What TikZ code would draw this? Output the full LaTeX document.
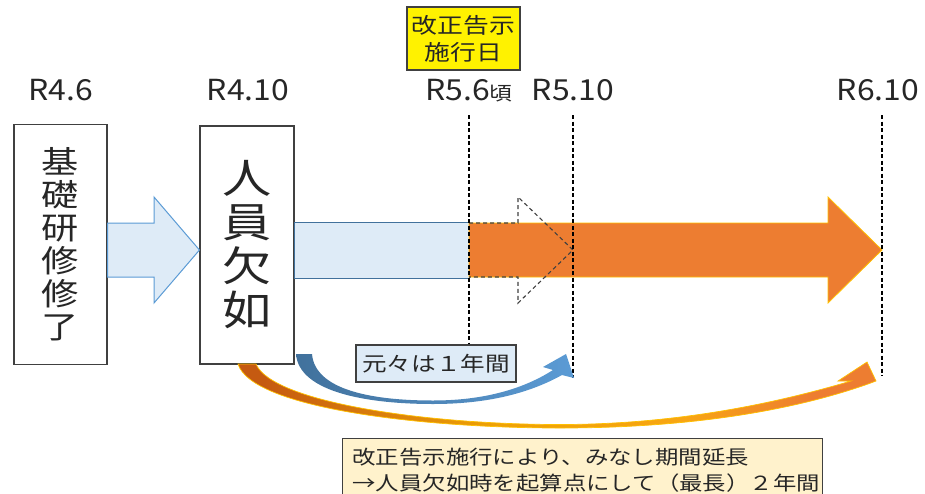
\documentclass[tikz,border=0pt]{standalone}
\usepackage{fontspec}
\newfontfamily\jp[FakeStretch=1.2]{Noto Sans CJK JP}
\newfontfamily\lat[FakeStretch=1.1]{Noto Sans CJK JP}
\usetikzlibrary{calc}
\definecolor{lblue}{HTML}{DEEBF7}
\definecolor{mblue}{HTML}{5B9BD5}
\definecolor{dblue}{HTML}{41719C}
\definecolor{orng}{HTML}{ED7D31}
\definecolor{dorng}{HTML}{C55A11}
\definecolor{gold}{HTML}{FFC000}
\definecolor{cream}{HTML}{FFF2CC}
\definecolor{frame}{HTML}{404040}
\definecolor{txt}{HTML}{262626}
\pgfdeclarehorizontalshading{orsh}{100bp}{color(0bp)=(dorng); color(27bp)=(dorng); color(45bp)=(dorng!30!gold); color(60bp)=(gold!60!orng); color(70bp)=(orng); color(100bp)=(orng)}
\tikzset{
  lbl/.style={font=\lat\fontsize{29}{29}\selectfont, text=txt, inner sep=0pt},
  tallbox/.style={draw=frame, line width=1.1pt, fill=white, inner sep=0pt, align=center, text=txt},
  notebox/.style={draw=frame, line width=1.1pt, inner sep=0pt, text=txt, font=\jp\fontsize{19.5}{26}\selectfont},
  vline/.style={draw=black, line width=1.5pt, dash pattern=on 4pt off 2.5pt},
  ghost/.style={draw=frame, line width=1.1pt, dash pattern=on 4pt off 3pt},
}
\begin{document}
\begin{tikzpicture}[x=1pt,y=-1pt]
\useasboundingbox (0,0) rectangle (925,493);

% date labels
\node[lbl, anchor=base] (r46) at (61,100) {R4.6};
\node[lbl, anchor=base] (r410) at (248,100) {R4.10};
\node[lbl, anchor=base west] (r56) at (425,100) {R5.6{\jp\fontsize{19}{19}\selectfont 頃}};
\node[lbl, anchor=base] (r510) at (573,100) {R5.10};
\node[lbl, anchor=base] (r610) at (878,100) {R6.10};

% yellow note
\node[notebox, fill=yellow, minimum width=113pt, minimum height=63pt, align=center, font=\jp\fontsize{21.5}{27}\selectfont] (kokuji) at (463.5,38.5) {改正告示\\施行日};

% main boxes
\node[tallbox, minimum width=93pt, minimum height=240pt, font=\jp\fontsize{31}{33}\selectfont] (b1) at (60.5,244.5) {基\\礎\\研\\修\\修\\了};
\node[tallbox, minimum width=94pt, minimum height=238pt, font=\jp\fontsize{41}{44}\selectfont] (b2) at (247,245) {人\\員\\欠\\如};

% block arrow between boxes
\path[fill=lblue, draw=mblue, line width=1pt]
  (b1.east |- 0,223) -- (154,223) -- (154,197) -- (b2.west |- 0,250) -- (154,303) -- (154,277) -- (b1.east |- 0,277) -- cycle;

% light blue bar
\path[fill=lblue, draw=dblue, line width=1pt] (b2.east |- 0,222) rectangle (469,278);

% orange arrow
\path[fill=orng, draw=gold, line width=0.8pt]
  (469,223) -- (828,223) -- (828,197) -- (882,250) -- (828,303) -- (828,277) -- (469,277) -- cycle;

% dashed ghost arrow
\path[ghost] (469,223) -- (518,223) -- (518,197) -- (573,250) -- (518,303) -- (518,277) -- (469,277);

% vertical dashed lines
\coordinate (v1t) at (469,115);
\coordinate (v1b) at (469,345);
\coordinate (v2t) at (573,115);
\coordinate (v2b) at (573,378);
\coordinate (v3t) at (882,115);
\coordinate (v3b) at (882,376);
\draw[vline] (v1t) -- (v1b);
\draw[vline] (v2t) -- (v2b);
\draw[vline] (v3t) -- (v3b);

% orange curved arrow
\shade[shading=orsh, draw=gold, line width=0.7pt]
  (238,364) .. controls (252,408) and (420,428) .. (560,428)
  .. controls (700,428) and (800,408) .. (868,384)
  -- (876,381) -- (867,362) -- (838,381) -- (851,381)
  .. controls (780,402) and (680,424.5) .. (560,424.5)
  .. controls (425,424.5) and (272,402) .. (256,364) -- cycle;

% blue curved arrow
\shade[left color=dblue, right color=mblue]
  (296,354) .. controls (299,393) and (370,404) .. (433,404)
  .. controls (495,404) and (535,390) .. (562,375)
  -- (574,378) -- (566,354) -- (543,367) -- (553,370)
  .. controls (528,386) and (490,400.5) .. (433,400.5)
  .. controls (372,400.5) and (315,390) .. (312,354) -- cycle;

% notes
\node[notebox, fill=lblue, minimum width=160pt, minimum height=37pt, font=\jp\fontsize{20.5}{26}\selectfont] (moto) at (436,363.5) {元々は１年間};
\node[notebox, fill=cream, anchor=north west, text width=460pt, inner xsep=10pt, inner ysep=5pt, minimum height=64pt, align=left] (kaisei) at (342,438) {改正告示施行により、みなし期間延長\\→人員欠如時を起算点にして（最長）２年間};
\end{tikzpicture}
\end{document}
